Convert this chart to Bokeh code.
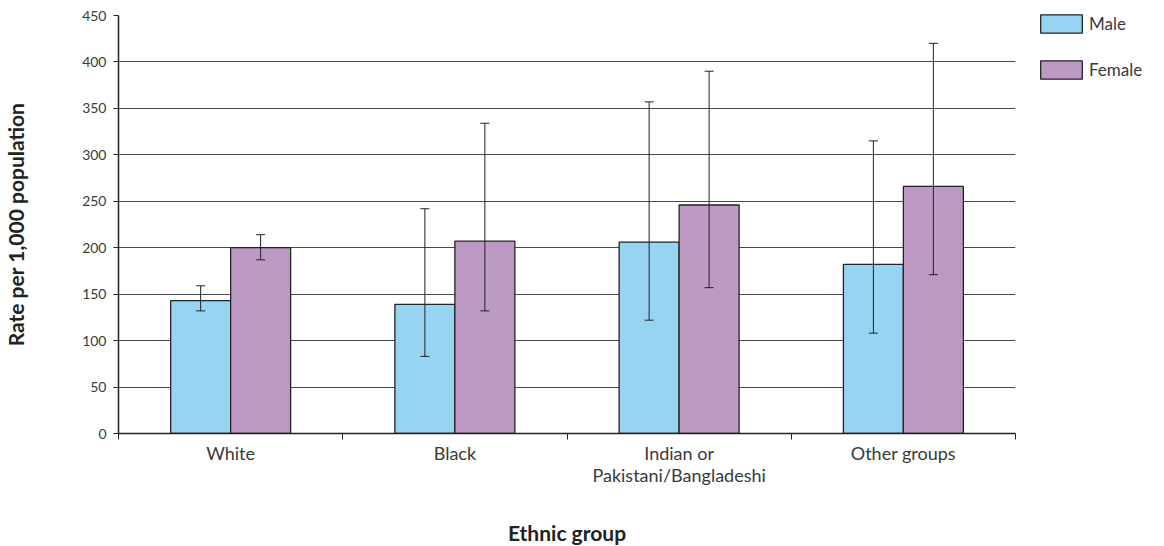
from bokeh.plotting import figure
from bokeh.models import (ColumnDataSource, Range1d, FixedTicker, Whisker, TeeHead,
                          Legend, LegendItem)
from bokeh.embed import file_html
from bokeh.resources import INLINE

categories = ["White", "Black", "Indian or\nPakistani/Bangladeshi", "Other groups"]
male = [143, 139, 206, 182]
female = [200, 207, 246, 266]
male_lo = [132, 83, 122, 108]
male_hi = [159, 242, 357, 315]
female_lo = [187, 132, 157, 171]
female_hi = [214, 334, 390, 420]
y_ticks = [0, 50, 100, 150, 200, 250, 300, 350, 400, 450]

FONT = "Lato"
TXT = "#3a3a3a"
BAR_W = 0.2675

idx = list(range(len(categories)))
centers = [i + 0.5 for i in idx]
male_x = [c - BAR_W / 2 for c in centers]
female_x = [c + BAR_W / 2 for c in centers]

src_m = ColumnDataSource(dict(x=male_x, top=male, lo=male_lo, hi=male_hi))
src_f = ColumnDataSource(dict(x=female_x, top=female, lo=female_lo, hi=female_hi))

p = figure(frame_width=897, frame_height=418, output_backend="svg", toolbar_location=None,
           x_range=Range1d(0, 4), y_range=Range1d(0, 450),
           min_border_left=117, min_border_right=150, min_border_top=15, min_border_bottom=113)
p.outline_line_color = None
p.background_fill_color = "white"
p.border_fill_color = "white"

r_m = p.vbar(x="x", top="top", bottom=0, width=BAR_W, source=src_m,
             fill_color="#96D4F1", line_color="#222222", line_width=1.3)
r_f = p.vbar(x="x", top="top", bottom=0, width=BAR_W, source=src_f,
             fill_color="#BD9AC4", line_color="#222222", line_width=1.3)

for src in (src_m, src_f):
    w = Whisker(base="x", lower="lo", upper="hi", source=src, level="overlay",
                line_color="#222222", line_width=1,
                upper_head=TeeHead(size=9, line_color="#222222", line_width=1),
                lower_head=TeeHead(size=9, line_color="#222222", line_width=1))
    p.add_layout(w)

# grid
p.xgrid.grid_line_color = None
p.ygrid.grid_line_color = "#4a4a4a"
p.ygrid.grid_line_width = 1
p.ygrid.level = "underlay"

# y axis
p.yaxis.ticker = FixedTicker(ticks=y_ticks)
p.yaxis.axis_line_color = "#222222"
p.yaxis.axis_line_width = 1.5
p.yaxis.major_tick_out = 5
p.yaxis.major_tick_in = 0
p.yaxis.major_tick_line_color = "#222222"
p.yaxis.minor_tick_line_color = None
p.yaxis.major_label_standoff = 7
p.yaxis.major_label_text_font = FONT
p.yaxis.major_label_text_font_size = "14px"
p.yaxis.major_label_text_color = TXT
p.yaxis.axis_label = "Rate per 1,000 population"
p.yaxis.axis_label_text_font = FONT
p.yaxis.axis_label_text_font_style = "bold"
p.yaxis.axis_label_text_font_size = "21px"
p.yaxis.axis_label_text_color = "#222222"
p.yaxis.axis_label_standoff = 51

# x axis
p.xaxis.ticker = FixedTicker(ticks=centers, minor_ticks=[0, 1, 2, 3, 4])
p.xaxis.major_label_overrides = {c: lab for c, lab in zip(centers, categories)}
p.xaxis.axis_line_color = "#222222"
p.xaxis.axis_line_width = 1.5
p.xaxis.major_tick_line_color = None
p.xaxis.major_tick_out = 0
p.xaxis.major_tick_in = 0
p.xaxis.minor_tick_line_color = "#222222"
p.xaxis.minor_tick_out = 6
p.xaxis.minor_tick_in = 0
p.xaxis.major_label_standoff = 2
p.xaxis.major_label_text_font = FONT
p.xaxis.major_label_text_font_size = "18px"
p.xaxis.major_label_text_line_height = 1.0
p.xaxis.major_label_text_color = TXT
p.xaxis.axis_label = "Ethnic group"
p.xaxis.axis_label_text_font = FONT
p.xaxis.axis_label_text_font_style = "bold"
p.xaxis.axis_label_text_font_size = "21px"
p.xaxis.axis_label_text_color = "#222222"
p.xaxis.axis_label_standoff = 31

legend = Legend(items=[LegendItem(label="Male", renderers=[r_m]),
                       LegendItem(label="Female", renderers=[r_f])],
                location=(20, 352), padding=0, margin=0, spacing=23,
                glyph_width=52, glyph_height=23, label_standoff=2, label_height=20,
                label_text_font=FONT, label_text_font_size="17px", label_text_color=TXT,
                border_line_color=None, background_fill_alpha=0)
p.add_layout(legend, "right")

open("out.html", "w").write(file_html(p, INLINE))
